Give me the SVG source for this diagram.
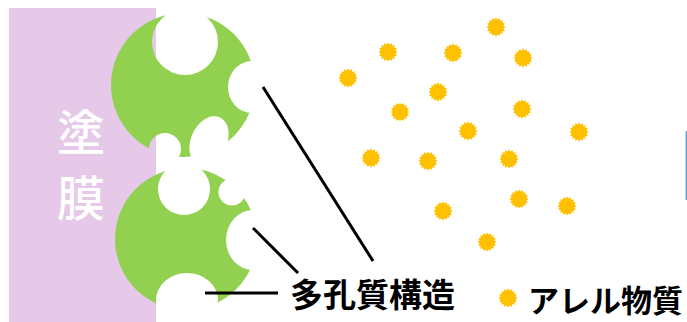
<svg xmlns="http://www.w3.org/2000/svg" xmlns:xlink="http://www.w3.org/1999/xlink" width="687" height="322" viewBox="0 0 687 322">
  <style>
    .film { fill: #E6C9E8; }
    .porous { fill: #92D050; }
    .particle { fill: #FFC000; }
    .leader { stroke: #000000; stroke-width: 3; fill: none; }
    .label { font-family: "Noto Sans CJK JP", "Noto Sans", sans-serif; font-weight: 700; fill: #000000; }
    .film-label { font-family: "Noto Sans CJK JP", "Noto Sans", sans-serif; font-size: 48px; font-weight: 500; fill: #FFFFFF; text-anchor: middle; }
  </style>
  <defs>
    <!-- sixteen-point burst used for every allergen particle -->
    <polygon id="burst" class="particle" points="9.5,0 7.45,1.48 8.78,3.64 6.32,4.22 6.72,6.72 4.22,6.32 3.64,8.78 1.48,7.45 0,9.5 -1.48,7.45 -3.64,8.78 -4.22,6.32 -6.72,6.72 -6.32,4.22 -8.78,3.64 -7.45,1.48 -9.5,0 -7.45,-1.48 -8.78,-3.64 -6.32,-4.22 -6.72,-6.72 -4.22,-6.32 -3.64,-8.78 -1.48,-7.45 0,-9.5 1.48,-7.45 3.64,-8.78 4.22,-6.32 6.72,-6.72 6.32,-4.22 8.78,-3.64 7.45,-1.48"/>
    <!-- pores punched out of the green grains -->
    <mask id="pores" maskUnits="userSpaceOnUse" x="0" y="0" width="687" height="322">
      <rect x="0" y="0" width="687" height="322" fill="#FFFFFF"/>
      <g fill="#000000">
        <circle cx="185" cy="42" r="33"/>
        <ellipse cx="252" cy="87" rx="24" ry="26"/>
        <circle cx="165" cy="149" r="16"/>
        <ellipse cx="209" cy="141" rx="18" ry="26" transform="rotate(25 209 141)"/>
        <circle cx="184" cy="189" r="26"/>
        <circle cx="232" cy="192" r="13.5"/>
        <ellipse cx="253" cy="240" rx="27" ry="30"/>
        <ellipse cx="187" cy="300" rx="31" ry="27"/>
      </g>
    </mask>
  </defs>

  <g id="coating">
    <rect class="film" x="9" y="8" width="147" height="314"/>
    <text class="film-label" x="81" y="150">塗</text>
    <text class="film-label" x="81" y="216">膜</text>
  </g>

  <g id="porous-structure" mask="url(#pores)">
    <circle id="grain-upper" class="porous" cx="183" cy="85" r="72"/>
    <circle id="grain-lower" class="porous" cx="186" cy="239" r="71"/>
  </g>

  <g id="connectors">
    <line class="leader" x1="263" y1="87" x2="373" y2="261"/>
    <line class="leader" x1="253" y1="228" x2="298" y2="273"/>
    <line class="leader" x1="205" y1="293" x2="278" y2="293"/>
  </g>

  <g id="allergens">
    <use xlink:href="#burst" x="496" y="27"/>
    <use xlink:href="#burst" x="388" y="52"/>
    <use xlink:href="#burst" x="453" y="53"/>
    <use xlink:href="#burst" x="523" y="58"/>
    <use xlink:href="#burst" x="348" y="78"/>
    <use xlink:href="#burst" x="438" y="92"/>
    <use xlink:href="#burst" x="400" y="112"/>
    <use xlink:href="#burst" x="522" y="109"/>
    <use xlink:href="#burst" x="468" y="131"/>
    <use xlink:href="#burst" x="579" y="132"/>
    <use xlink:href="#burst" x="371" y="158"/>
    <use xlink:href="#burst" x="428" y="161"/>
    <use xlink:href="#burst" x="509" y="159"/>
    <use xlink:href="#burst" x="519" y="199"/>
    <use xlink:href="#burst" x="443" y="211"/>
    <use xlink:href="#burst" x="567" y="206"/>
    <use xlink:href="#burst" x="487" y="242"/>
  </g>

  <g id="label-porous">
    <text class="label" x="290" y="307" font-size="33">多孔質構造</text>
  </g>

  <g id="legend-allergen">
    <use xlink:href="#burst" x="508" y="298"/>
    <text class="label" x="528" y="312" font-size="31">アレル物質</text>
  </g>

  <line id="edge-mark" x1="686.3" y1="131" x2="686.3" y2="200" stroke="#6A9BD0" stroke-width="1.4"/>
</svg>
